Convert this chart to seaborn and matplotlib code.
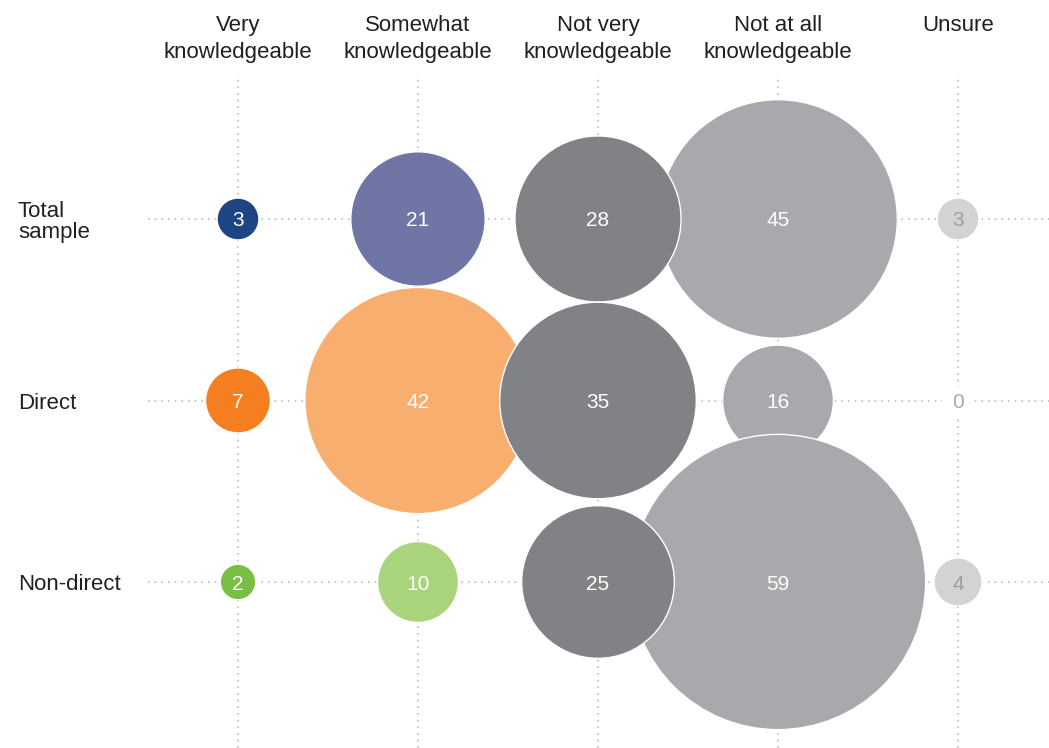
import matplotlib
matplotlib.use("Agg")
import matplotlib.pyplot as plt
import matplotlib.transforms as mtransforms
import seaborn as sns
import pandas as pd

# ── Data ─────────────────────────────────────────────────────────────────────
groups = ["Total\nsample", "Direct", "Non-direct"]
levels = ["Very\nknowledgeable", "Somewhat\nknowledgeable", "Not very\nknowledgeable",
          "Not at all\nknowledgeable", "Unsure"]
total_sample = [3, 21, 28, 45, 3]
direct = [7, 42, 35, 16, 0]
non_direct = [2, 10, 25, 59, 4]

# ── Style ────────────────────────────────────────────────────────────────────
COLORS = {
    0: ["#1d4483", "#f47e20", "#78bf44"],
    1: ["#6f76a6", "#f8ae6f", "#a9d47b"],
    2: ["#808285"] * 3,
    3: ["#a7a9ac"] * 3,
    4: ["#d1d3d4"] * 3,
}
LABEL_COLOR = "#231f20"
GRID_COLOR = "#bcbec0"
DRAW_RANK = {0: 0, 1: 1, 3: 2, 2: 3, 4: 4}   # dark grey column sits on top

sns.set_theme(style="white")
plt.rcParams["font.family"] = ["Liberation Sans", "DejaVu Sans"]


def radius_px(v):
    return 10 + 4.3 * v ** 0.85


def area_pt2(v):
    return (2 * radius_px(v) * 72 / 100) ** 2


rows = []
for gi, vals in enumerate([total_sample, direct, non_direct]):
    for li, v in enumerate(vals):
        rows.append({"x": li, "y": gi, "value": v, "cell": f"{gi}-{li}",
                     "color": COLORS[li][gi], "rank": DRAW_RANK[li]})
df = pd.DataFrame(rows)
bubbles = df[df["value"] > 0].sort_values(["rank", "y"])

W, H = 1049, 748
fig = plt.figure(figsize=(W / 100, H / 100), dpi=100)
ax = fig.add_axes([148 / W, 0, (W - 148) / W, (H - 75) / H])
ax.set_xlim(-0.5, (W - 238) / 180)
ax.set_ylim((H - 219) / 181.5, (75 - 219) / 181.5)
ax.set_axis_off()

dots = dict(color=GRID_COLOR, lw=1.2, ls=(0, (1, 3)), zorder=0)
for gi in range(len(groups)):
    ax.axhline(gi, **dots)
for li in range(len(levels)):
    ax.axvline(li, **dots)

sns.scatterplot(
    data=bubbles, x="x", y="y",
    hue="cell", palette=dict(zip(bubbles["cell"], bubbles["color"])),
    size="value", sizes={v: area_pt2(v) for v in bubbles["value"].unique()},
    edgecolor="white", linewidth=1, legend=False, ax=ax,
    clip_on=False, zorder=2,
)

for _, r in df.iterrows():
    if r["value"] == 0:
        ax.text(r["x"], r["y"], "0", ha="center", va="center_baseline", fontsize=15,
                color="#a7a9ac", zorder=3,
                bbox=dict(boxstyle="circle,pad=0.3", fc="white", ec="none"))
    else:
        tc = "#9d9fa2" if r["x"] == 4 else "white"
        ax.text(r["x"], r["y"], str(r["value"]), ha="center", va="center_baseline",
                fontsize=15, color=tc, zorder=3)

# column headers and row labels
col_tf = mtransforms.blended_transform_factory(ax.transData, fig.transFigure)
for li, name in enumerate(levels):
    ax.text(li, 1 - 15 / H, name, transform=col_tf, ha="center", va="top",
            fontsize=16, color=LABEL_COLOR, linespacing=1.4, clip_on=False)

row_tf = mtransforms.blended_transform_factory(fig.transFigure, ax.transData)
row_tf = row_tf + mtransforms.ScaledTranslation(0, -3 / 100, fig.dpi_scale_trans)
for gi, name in enumerate(groups):
    ax.text(18 / W, gi, name, transform=row_tf, ha="left", va="center",
            fontsize=16, color=LABEL_COLOR, linespacing=1.05, clip_on=False)

fig.savefig("out.png", dpi=100)
plt.close(fig)
